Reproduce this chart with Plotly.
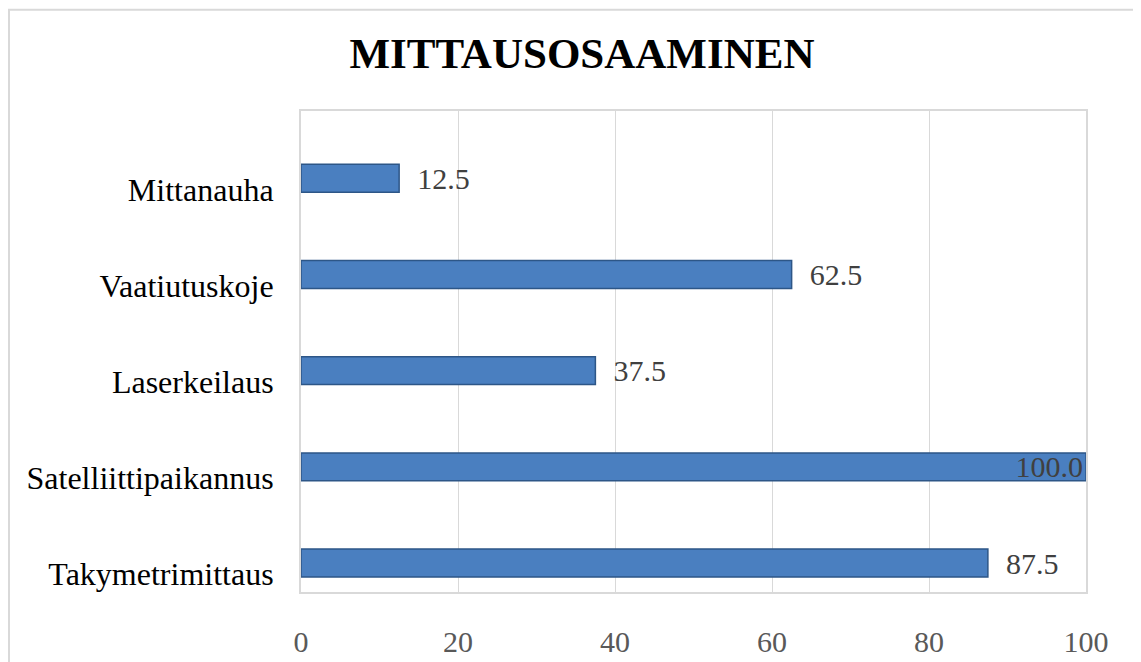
import plotly.graph_objects as go

categories = ["Takymetrimittaus", "Satelliittipaikannus", "Laserkeilaus", "Vaatiutuskoje", "Mittanauha"]
values = [87.5, 100.0, 37.5, 62.5, 12.5]
x_ticks = [0, 20, 40, 60, 80, 100]
title_text = "MITTAUSOSAAMINEN"

serif = "Liberation Serif, Times New Roman, serif"

positions = ["inside" if v >= 100 else "outside" for v in values]
labels = [("%.1f" % v) if v >= 100 else ("\u00a0\u00a0%.1f" % v) for v in values]

# page has an 8px body margin; the figure is offset by it
L, T, PW, PH = 293, 103, 785, 484

fig = go.Figure()
fig.add_trace(go.Bar(
    y=categories,
    x=values,
    orientation="h",
    text=labels,
    textposition=positions,
    insidetextanchor="end",
    constraintext="none",
    cliponaxis=False,
    width=0.29,
    offset=-0.03,
    textfont=dict(family=serif, size=30, color="#404040"),
    insidetextfont=dict(family=serif, size=30, color="#404040"),
    outsidetextfont=dict(family=serif, size=30, color="#404040"),
    marker=dict(color="#4a7fc0", line=dict(color="#2d5687", width=1.5)),
    hoverinfo="x+y",
))

fig.update_layout(
    width=1141,
    height=662,
    paper_bgcolor="white",
    plot_bgcolor="white",
    margin=dict(l=L, r=1141 - L - PW, t=T, b=662 - T - PH),
    showlegend=False,
    title=dict(
        text="<b>%s</b>" % title_text,
        x=0.503, xanchor="center",
        y=1 - 45 / 662, yanchor="middle",
        yref="container",
        font=dict(family=serif, size=43, color="#000000"),
    ),
    xaxis=dict(
        range=[0, 100],
        tickvals=x_ticks,
        ticktext=[str(t) for t in x_ticks],
        showgrid=True,
        gridcolor="#d9d9d9",
        gridwidth=1,
        zeroline=False,
        showline=True,
        linecolor="#d9d9d9",
        linewidth=2,
        mirror=True,
        ticks="",
        ticklabelstandoff=22,
        tickfont=dict(family=serif, size=30, color="#595959"),
    ),
    yaxis=dict(
        range=[-0.186, 4.814],
        showgrid=False,
        zeroline=False,
        showline=True,
        linecolor="#d9d9d9",
        linewidth=2,
        mirror=True,
        ticks="",
        ticklabelstandoff=19,
        tickfont=dict(family=serif, size=32, color="#000000"),
    ),
    shapes=[dict(
        type="rect", xref="paper", yref="paper",
        x0=(1 - L) / PW, x1=(1160 - L) / PW,
        y0=(T + PH - 700) / PH, y1=(T + PH - 1) / PH,
        line=dict(color="#d9d9d9", width=2),
        fillcolor="rgba(0,0,0,0)",
        layer="below",
    )],
)

fig.write_html("out.html")
